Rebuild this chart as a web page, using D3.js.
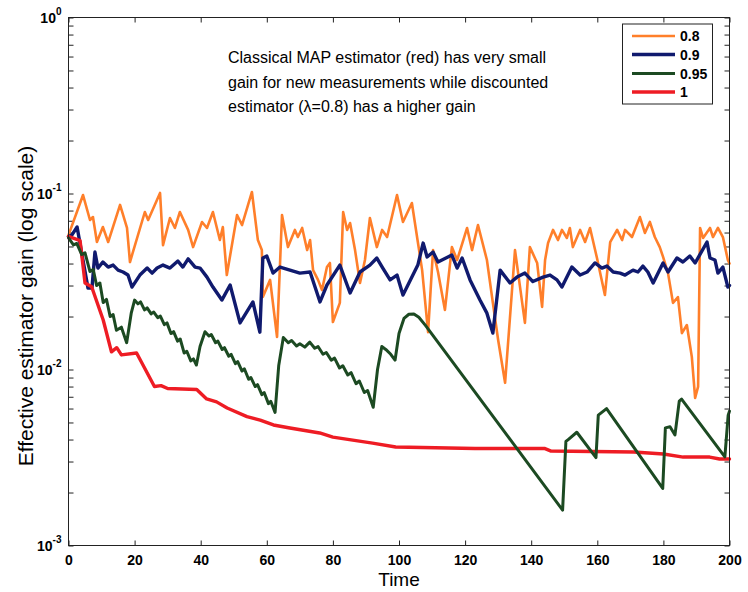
<!DOCTYPE html>
<html>
<head>
<meta charset="utf-8">
<script src="https://cdn.jsdelivr.net/npm/d3@7"></script>
<style>
  body { margin: 0; background: #fff; }
  text { font-family: "Liberation Sans", Arial, Helvetica, sans-serif; }
</style>
</head>
<body>
<svg id="chart" width="748" height="592"></svg>
<script>
// Effective estimator gain per time step, one list of [time, gain] per discount factor
const gain08 = [
  [0,0.058],[4.4,0.098],[6.5,0.0707],[7.4,0.0735],[8.6,0.053],[10.4,0.0645],[12,0.053],[15.6,0.0861],
  [17.7,0.0637],[18.6,0.0408],[23.1,0.0785],[24.1,0.0707],[27.7,0.1007],[28.6,0.0509],[30.7,0.0726],
  [32.2,0.0637],[33.7,0.0785],[36.2,0.0621],[37.7,0.0496],[40.4,0.0689],[41.9,0.0637],[43.7,0.0785],
  [45.8,0.0544],[46.7,0.0645],[47.9,0.0344],[51,0.0755],[52.5,0.0662],[55.5,0.102],[57.3,0.0544],
  [58.5,0.0477],[58.8,0.0258],[61,0.0323],[63.1,0.0153],[64.6,0.0755],[66.4,0.0496],[68.5,0.0621],
  [69.4,0.0566],[70.7,0.0637],[72.2,0.0477],[73.1,0.0544],[74,0.0367],[75.5,0.0323],[76.7,0.0283],
  [78.2,0.0382],[79.1,0.0403],[80,0.0186],[82.1,0.0239],[83.1,0.0785],[84.3,0.0621],[85.2,0.068],
  [86.7,0.0477],[88.2,0.031],[89.7,0.0419],[91.2,0.0726],[93.3,0.0496],[94.9,0.0621],[96.4,0.0566],
  [99.4,0.098],[101.2,0.0689],[103.9,0.0883],[105.7,0.053],[107,0.0367],[108.8,0.0163],[110.3,0.0477],
  [111.8,0.0358],[113.9,0.0218],[116,0.0496],[117.6,0.0419],[120.6,0.0637],[122.1,0.0477],[123.9,0.0662],
  [126.6,0.0419],[128.4,0.0239],[130,0.0147],[132.1,0.0084],[135.1,0.0477],[138.1,0.0184],[139.6,0.0496],
  [141.8,0.0403],[143.3,0.0227],[144.2,0.0419],[145.1,0.0523],[146.6,0.0621],[148.1,0.0544],[149.3,0.0621],
  [150.8,0.0559],[151.7,0.0637],[152.6,0.0496],[154.8,0.0621],[156.3,0.053],[157.8,0.0637],[159.9,0.043],
  [162.3,0.0265],[163.9,0.053],[166,0.0621],[167.5,0.0544],[168.4,0.0621],[170.5,0.0566],[172.9,0.0735],
  [174.4,0.0597],[175.9,0.0689],[177.4,0.0566],[178.9,0.0496],[179.9,0.0436],[181.4,0.0353],[182.9,0.0239],
  [184.4,0.0258],[185.6,0.0161],[187.1,0.0179],[188.6,0.0118],[189.6,0.0069],[190.5,0.008],[191.1,0.0637],
  [192,0.0559],[194.1,0.0637],[195,0.0566],[196.5,0.0637],[198,0.0566],[199.5,0.0419],[200,0.040]
];

const gain09 = [
  [0,0.057],[1,0.058],[2.6,0.0645],[5.9,0.029],[7.1,0.029],[8,0.0465],[8.9,0.0377],[10.4,0.0408],
  [12,0.0382],[13.5,0.0392],[15,0.0367],[16.5,0.0358],[18,0.0344],[19.2,0.0294],[21.6,0.0344],
  [23.8,0.0377],[25.3,0.0353],[26.8,0.0377],[28.6,0.0392],[30.7,0.0377],[33.1,0.0413],[34.6,0.0382],
  [36.2,0.0425],[38.3,0.0382],[39.8,0.0377],[41.9,0.0335],[43.7,0.0294],[46.4,0.0248],[48.9,0.0302],
  [51.9,0.0184],[55.8,0.0242],[57.9,0.0163],[58.8,0.043],[60,0.0441],[61.9,0.0353],[64,0.0382],
  [67,0.0367],[70,0.0353],[73.1,0.0358],[76.1,0.0242],[78.2,0.0302],[82.1,0.0392],[85.2,0.0272],
  [88.2,0.0358],[91.2,0.0392],[93.3,0.043],[95.1,0.0377],[97.3,0.0323],[99.4,0.0344],[101.2,0.0265],
  [105.7,0.0392],[107.3,0.0523],[108.5,0.0436],[110.3,0.0465],[111.8,0.0408],[116,0.0447],[117.6,0.0377],
  [119.1,0.043],[121.5,0.0323],[124.5,0.0248],[126.6,0.0209],[128.4,0.0161],[130.6,0.0367],[133.6,0.031],
  [135.7,0.0335],[138.1,0.0353],[140.5,0.0316],[143.6,0.0335],[145.7,0.0344],[147.8,0.0323],[149.3,0.0294],
  [152.3,0.0382],[154.8,0.0344],[156.9,0.0358],[159.3,0.0403],[161.4,0.0377],[162.9,0.0387],[164.8,0.0358],
  [166.9,0.0353],[168.4,0.0344],[170.8,0.0367],[172.3,0.0358],[173.8,0.0387],[175.3,0.0358],[176.9,0.031],
  [179.9,0.0403],[181.4,0.0358],[184.1,0.043],[185.9,0.0408],[188,0.0441],[189.6,0.0403],[193.2,0.053],
  [194.1,0.043],[195.6,0.0419],[196.5,0.0353],[198,0.0382],[199.5,0.0294],[200,0.030]
];

const gain095 = [
  [0,0.056],[1.5,0.051],[2.5,0.052],[4,0.045],[5,0.046],[6.5,0.036],[7.5,0.037],[8.5,0.030],[9.5,0.031],
  [10.5,0.024],[11.5,0.025],[12.6,0.020],[13.5,0.0205],[14.5,0.0167],[16,0.0174],[17.6,0.0142],[19,0.021],
  [20,0.0248],[21,0.0236],[21.8,0.0242],[23,0.0218],[23.8,0.0224],[25,0.0207],[25.8,0.0212],[27,0.0197],
  [27.8,0.0201],[29,0.0180],[29.8,0.0184],[31,0.0160],[31.8,0.0164],[33,0.0145],[33.8,0.0149],[35,0.0124],
  [35.8,0.0127],[37,0.0112],[37.8,0.0115],[38.7,0.0106],[39.8,0.0135],[41.3,0.0164],[42.5,0.0155],
  [43.2,0.0158],[44.5,0.0142],[45.2,0.0145],[46.5,0.0130],[47.2,0.0133],[48.5,0.0119],[49.2,0.0122],
  [50.5,0.0108],[51.2,0.0111],[52.5,0.0098],[53.2,0.0101],[54.5,0.0088],[55.2,0.0090],[56.5,0.0080],
  [57.2,0.0082],[58.5,0.0072],[59.2,0.0074],[60.5,0.0064],[61.2,0.0066],[62.5,0.0057],[63.6,0.0105],
  [65,0.0152],[66.5,0.0142],[67.5,0.0146],[69,0.0136],[70,0.0140],[71.5,0.0134],[73,0.0143],[74.5,0.0132],
  [75.5,0.0135],[77,0.0122],[78,0.0125],[79.5,0.0113],[80.5,0.0116],[82,0.0102],[83,0.0105],[84.5,0.0093],
  [85.5,0.0096],[87,0.0083],[88,0.0086],[89.5,0.0074],[90.5,0.0076],[92.2,0.0061],[93.5,0.0100],
  [94.8,0.0135],[96,0.0130],[97.5,0.0122],[98.8,0.0113],[100,0.0160],[101.5,0.0195],[103,0.0206],
  [104.5,0.0207],[106,0.0198],[108,0.0178],[149.5,0.00159],[150.5,0.0039],[151.2,0.0040],[153.8,0.0044],
  [159.6,0.00316],[160.3,0.0055],[162.8,0.0060],[179.8,0.00211],[180.6,0.00466],[182,0.00473],
  [183.5,0.00425],[184.8,0.00661],[185.5,0.00679],[198.6,0.00319],[199.6,0.0055],[200,0.0058]
];

const gain1 = [
  [0,0.057],[3.5,0.054],[5,0.031],[7,0.0295],[10.5,0.0191],[13,0.0126],[14.6,0.0133],[16,0.0121],
  [20.6,0.0124],[26,0.0080],[28,0.0081],[30,0.0078],[38.8,0.0077],[41.8,0.0068],[44.8,0.00655],
  [48,0.00604],[54,0.0054],[58,0.00516],[62,0.00484],[67,0.00465],[76,0.00436],[80,0.00413],
  [92,0.00382],[99,0.00363],[123,0.00356],[144,0.00356],[146,0.00344],[171,0.0034],[180,0.00331],
  [186,0.00318],[194,0.00318],[197,0.0031],[200,0.0031]
];

const seriesLabels = ["0.8", "0.9", "0.95", "1"];
const seriesColors = ["#ff7f2a", "#101a6e", "#1c4a22", "#ee1c24"];
const seriesWidths = [2.6, 3.4, 3, 3.4];
const seriesData = [gain08, gain09, gain095, gain1];
const drawOrder = [0, 1, 3, 2];

const timeTicks = [0, 20, 40, 60, 80, 100, 120, 140, 160, 180, 200];
const decadeExponents = [-3, -2, -1, 0];

const noteLines = [
  "Classical MAP estimator (red) has very small",
  "gain for new measurements while discounted",
  "estimator (\u03bb=0.8) has a higher gain"
];

const svg = d3.select("#chart");
const plot = { left: 68.5, right: 729.5, top: 17.5, bottom: 545.5 };

const x = d3.scaleLinear().domain([0, 200]).range([plot.left, plot.right]);
const y = d3.scaleLog().domain([1e-3, 1]).range([plot.bottom, plot.top]);

// every log tick: 1..9 times each decade, plus the top of the range
const logTicks = [];
decadeExponents.slice(0, -1).forEach(e => {
  for (let m = 1; m <= 9; m++) logTicks.push(m * Math.pow(10, e));
});
logTicks.push(1);

const axisColor = "#222";

// inward ticks on all four sides
const bottomAxis = svg.append("g").attr("transform", `translate(0,${plot.bottom})`)
  .call(d3.axisBottom(x).tickValues(timeTicks).tickSizeInner(-5).tickSizeOuter(0).tickPadding(10).tickFormat(d3.format("d")));
const topAxis = svg.append("g").attr("transform", `translate(0,${plot.top})`)
  .call(d3.axisTop(x).tickValues(timeTicks).tickSizeInner(-5).tickSizeOuter(0).tickFormat(""));
const leftAxis = svg.append("g").attr("transform", `translate(${plot.left},0)`)
  .call(d3.axisLeft(y).tickValues(logTicks).tickSizeInner(-5).tickSizeOuter(0).tickFormat(""));
const rightAxis = svg.append("g").attr("transform", `translate(${plot.right},0)`)
  .call(d3.axisRight(y).tickValues(logTicks).tickSizeInner(-5).tickSizeOuter(0).tickFormat(""));

[bottomAxis, topAxis, leftAxis, rightAxis].forEach(g => {
  g.select(".domain").remove();
  g.selectAll(".tick line").attr("stroke", axisColor).attr("stroke-width", 1);
});
bottomAxis.selectAll(".tick text")
  .attr("fill", "#000").style("font-size", "14px").style("font-weight", "bold")
  .style("font-family", '"Liberation Sans", Arial, sans-serif');

// decade labels written as 10 with a superscript exponent
const yLabels = svg.append("g");
decadeExponents.forEach(e => {
  const t = yLabels.append("text")
    .attr("x", plot.left - 7)
    .attr("y", y(Math.pow(10, e)) + 5)
    .attr("text-anchor", "end")
    .style("font-size", "14px").style("font-weight", "bold");
  t.append("tspan").text("10");
  t.append("tspan").attr("dy", -8).style("font-size", "10px").text(String(e));
});

// series lines
const line = d3.line().x(d => x(d[0])).y(d => y(d[1]));
drawOrder.forEach(i => {
  svg.append("path")
    .datum(seriesData[i])
    .attr("fill", "none")
    .attr("stroke", seriesColors[i])
    .attr("stroke-width", seriesWidths[i])
    .attr("stroke-linejoin", "round")
    .attr("stroke-linecap", "round")
    .attr("d", line);
});

// plot frame
svg.append("rect")
  .attr("x", plot.left).attr("y", plot.top)
  .attr("width", plot.right - plot.left).attr("height", plot.bottom - plot.top)
  .attr("fill", "none").attr("stroke", axisColor).attr("stroke-width", 1);

// explanatory note
const note = svg.append("text").attr("x", 228).attr("y", 63).style("font-size", "16px").attr("fill", "#000");
noteLines.forEach((s, i) => {
  note.append("tspan").attr("x", 228).attr("dy", i === 0 ? 0 : 24.5).text(s);
});

// legend
const legend = svg.append("g");
legend.append("rect")
  .attr("x", 622.5).attr("y", 24).attr("width", 90).attr("height", 80)
  .attr("fill", "#fff").attr("stroke", axisColor).attr("stroke-width", 1);
const rowY = [36, 54.5, 73.5, 92];
seriesLabels.forEach((lab, i) => {
  legend.append("line")
    .attr("x1", 632).attr("x2", 675).attr("y1", rowY[i]).attr("y2", rowY[i])
    .attr("stroke", seriesColors[i]).attr("stroke-width", seriesWidths[i]);
  legend.append("text")
    .attr("x", 680).attr("y", rowY[i] + 5)
    .style("font-size", "14px").style("font-weight", "bold")
    .text(lab);
});

// axis titles
svg.append("text")
  .attr("x", (plot.left + plot.right) / 2).attr("y", 586)
  .attr("text-anchor", "middle").style("font-size", "19px")
  .text("Time");
svg.append("text")
  .attr("transform", "translate(33,306) rotate(-90)")
  .attr("text-anchor", "middle").style("font-size", "21px")
  .text("Effective estimator gain (log scale)");
</script>
</body>
</html>
